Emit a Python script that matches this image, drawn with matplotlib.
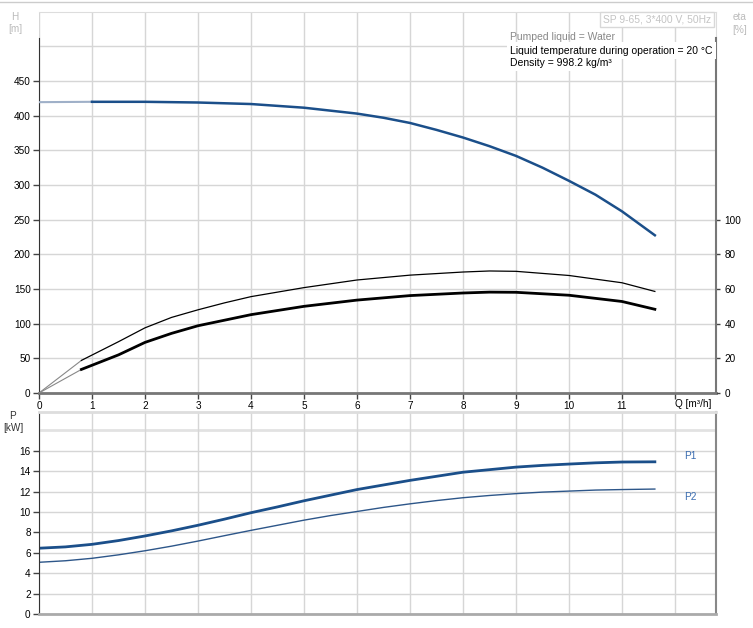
import numpy as np
import matplotlib.pyplot as plt
from matplotlib.lines import Line2D

plt.rcParams['font.family'] = ['Liberation Sans', 'DejaVu Sans']

# pump curve data
q_h = [0, 1, 2, 3, 4, 5, 6, 6.5, 7, 7.5, 8, 8.5, 9, 9.5, 10, 10.5, 11, 11.62]
head = [419.5, 420, 420, 419, 416.8, 411.5, 403, 397, 389.5, 379.5, 368.5, 356, 342, 325, 306, 286, 262, 227.5]

q_eta = [0, 0.8, 1.5, 2, 2.5, 3, 3.5, 4, 5, 6, 7, 8, 8.5, 9, 10, 11, 11.62]
eta_pump = [0, 18.8, 29.6, 37.6, 43.6, 48.0, 52.0, 55.6, 60.8, 65.2, 68.0, 69.8, 70.4, 70.2, 67.8, 63.6, 58.6]
eta_total = [0, 13.6, 22.0, 29.2, 34.4, 38.8, 42.0, 45.2, 50.0, 53.6, 56.2, 57.7, 58.2, 58.1, 56.4, 52.8, 48.3]

q_p = [0, 0.5, 1, 1.5, 2, 2.5, 3, 3.5, 4, 4.5, 5, 5.5, 6, 6.5, 7, 7.5, 8, 8.5, 9, 9.5, 10, 10.5, 11, 11.62]
p1 = [6.45, 6.58, 6.83, 7.2, 7.65, 8.15, 8.7, 9.3, 9.93, 10.5, 11.1, 11.65, 12.2, 12.65,
      13.1, 13.5, 13.9, 14.15, 14.4, 14.57, 14.7, 14.82, 14.9, 14.92]
p2 = [5.07, 5.22, 5.46, 5.8, 6.2, 6.65, 7.15, 7.68, 8.2, 8.7, 9.2, 9.65, 10.05, 10.45,
      10.8, 11.12, 11.4, 11.62, 11.8, 11.95, 12.05, 12.15, 12.2, 12.25]

W, H = 753, 628
grid_c = '#d6d6d6'
blue = '#1b4f8a'

def fx(px):
    return px / W

def fy(py):
    return 1 - py / H

fig = plt.figure(figsize=(W / 100, H / 100), dpi=100)
fig.add_artist(Line2D([0, 1], [fy(1.5), fy(1.5)], color='#cccccc', lw=1))

# --- head / efficiency axes ---
ax = fig.add_axes([fx(39), fy(393), fx(677), 381 / H])
ax.set_xlim(0, 677 / 53)
ax.set_ylim(0, 381 / 0.6933)
ax.set_xticks(range(13))
ax.set_xticklabels([str(i) for i in range(12)] + [''])
ax.set_yticks(range(0, 451, 50))
ax.grid(True, color=grid_c, lw=1)
ax.axhline(500, color=grid_c, lw=1, zorder=0)
ax.set_axisbelow(True)
ax.tick_params(labelsize=7.2, length=4, width=1, color='#444444', pad=2)
ax.spines['top'].set_color('#dddddd')
ax.spines['right'].set_color('#dddddd')
ax.spines['left'].set_color('#333333')
ax.spines['left'].set_bounds(0, 512)
ax.spines['bottom'].set_color('#777777')
ax.spines['bottom'].set_linewidth(2)
ax.plot(q_h[:2], head[:2], color='#9fb0c8', lw=1.5, zorder=3)
ax.plot(q_h[1:], head[1:], color=blue, lw=1.8, zorder=4)

axe = ax.twinx()
axe.set_ylim(0, 0.4 * 381 / 0.6933)
axe.set_yticks(range(0, 101, 20))
axe.tick_params(labelsize=7.2, length=3, width=1, color='#444444', pad=3)
axe.spines['right'].set_color('#777777')
axe.spines['right'].set_linewidth(1.5)
axe.spines['right'].set_bounds(0, 205)
for s in ['top', 'left', 'bottom']:
    axe.spines[s].set_visible(False)
axe.plot(q_eta[:2], eta_pump[:2], color='#888888', lw=0.8)
axe.plot(q_eta[:2], eta_total[:2], color='#888888', lw=0.8)
axe.plot(q_eta[1:], eta_pump[1:], color='black', lw=0.9)
axe.plot(q_eta[1:], eta_total[1:], color='black', lw=2)

fig.text(fx(675), fy(404), 'Q [m³/h]', fontsize=7.2, va='center', ha='left')
fig.text(fx(15), fy(17), 'H', fontsize=7.2, color='#bbbbbb', ha='center', va='center')
fig.text(fx(15), fy(29), '[m]', fontsize=7.2, color='#bbbbbb', ha='center', va='center')
fig.text(fx(740), fy(17), 'eta', fontsize=7.2, color='#bbbbbb', ha='center', va='center')
fig.text(fx(740), fy(30), '[%]', fontsize=7.2, color='#bbbbbb', ha='center', va='center')

fig.text(fx(603), fy(19.5), 'SP 9-65, 3*400 V, 50Hz', fontsize=7.4, color='#c4c4c4',
         ha='left', va='center',
         bbox=dict(boxstyle='square,pad=0.25', fc='white', ec='#d8d8d8', lw=1))
fig.text(fx(510), fy(37), 'Pumped liquid = Water', fontsize=7.5, color='#888888',
         ha='left', va='center')
fig.text(fx(510), fy(50.5), 'Liquid temperature during operation = 20 °C', fontsize=7.5,
         ha='left', va='center',
         bbox=dict(boxstyle='square,pad=0.3', fc='white', ec='none'))
fig.text(fx(510), fy(63), 'Density = 998.2 kg/m³', fontsize=7.5, ha='left', va='center',
         bbox=dict(boxstyle='square,pad=0.3', fc='white', ec='none'))

# --- power axes ---
axp = fig.add_axes([fx(39), fy(614), fx(677), 202 / H])
axp.set_xlim(0, 677 / 53)
axp.set_ylim(0, 202 / 10.2)
axp.set_xticks(range(13))
axp.set_xticklabels([])
axp.set_yticks(range(0, 17, 2))
axp.grid(True, color=grid_c, lw=1)
axp.axhline(18, color='#e2e2e2', lw=2, zorder=0)
axp.set_axisbelow(True)
axp.tick_params(axis='x', length=0)
axp.tick_params(axis='y', labelsize=7.2, length=4, width=1, color='#444444', pad=2)
axp.spines['top'].set_color('#dddddd')
axp.spines['top'].set_linewidth(2)
axp.spines['left'].set_color('#333333')
axp.spines['bottom'].set_color('#aaaaaa')
axp.spines['bottom'].set_linewidth(2)
axp.spines['right'].set_color('#888888')
axp.spines['right'].set_linewidth(1.5)
axp.plot(q_p, p1, color=blue, lw=2)
axp.plot(q_p, p2, color='#2d5689', lw=1)
fig.text(fx(684), fy(456), 'P1', fontsize=7.2, color='#3a6cb0', ha='left', va='center')
fig.text(fx(684), fy(497), 'P2', fontsize=7.2, color='#3a6cb0', ha='left', va='center')
fig.text(fx(13), fy(416), 'P', fontsize=7.2, color='#333333', ha='center', va='center')
fig.text(fx(13), fy(428), '[kW]', fontsize=7.2, color='#333333', ha='center', va='center')

fig.savefig('out.png', dpi=100)
